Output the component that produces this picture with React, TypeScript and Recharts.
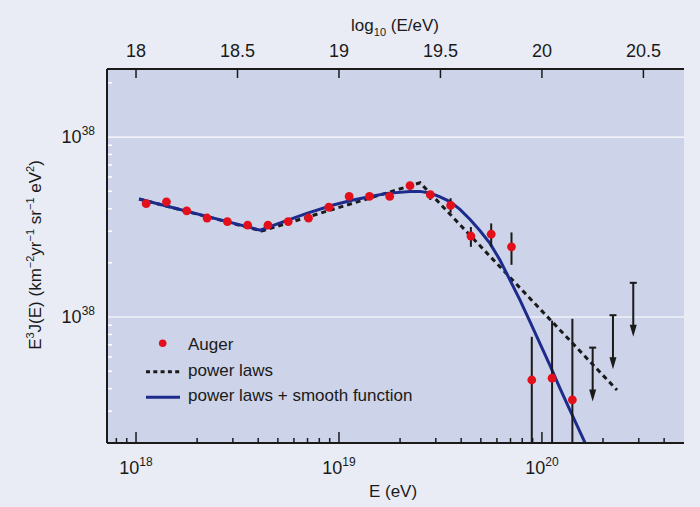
import React from "react";
import {
  ComposedChart,
  Line,
  Scatter,
  ErrorBar,
  XAxis,
  YAxis,
  CartesianGrid,
  ReferenceLine,
  Legend,
} from "recharts";

// Auger points: log10(E/eV) and log10(E^3 J)
const augerLogE = [
  18.05, 18.15, 18.25, 18.35, 18.45, 18.55, 18.65, 18.75, 18.85, 18.95, 19.05,
  19.15, 19.25, 19.35, 19.45, 19.55, 19.65, 19.75, 19.85, 19.95, 20.05, 20.15,
];
const augerLogFlux = [
  37.63, 37.64, 37.59, 37.55, 37.53, 37.51, 37.51, 37.53, 37.55, 37.61, 37.67,
  37.67, 37.67, 37.73, 37.68, 37.62, 37.45, 37.46, 37.39, 36.65, 36.66, 36.54,
];
const augerUpper = [
  37.63, 37.64, 37.59, 37.55, 37.53, 37.51, 37.51, 37.53, 37.55, 37.61, 37.67,
  37.67, 37.67, 37.73, 37.70, 37.66, 37.50, 37.52, 37.47, 36.89, 36.98, 36.99,
];
const augerLower = [
  37.63, 37.64, 37.59, 37.55, 37.53, 37.51, 37.51, 37.53, 37.55, 37.61, 37.67,
  37.67, 37.67, 37.73, 37.65, 37.58, 37.39, 37.39, 37.29, 36.3, 36.3, 36.3,
];

// upper limits (arrows)
const limitLogE = [20.25, 20.35, 20.45];
const limitLogFlux = [36.83, 37.01, 37.19];

// "power laws" fit
const powerLawLogE = [18.015, 18.62, 19.4, 20.37];
const powerLawLogFlux = [37.656, 37.478, 37.746, 36.594];

// "power laws + smooth function" fit
const smoothLogE = [
  18.015, 18.611, 18.841, 18.972, 19.069, 19.169, 19.236, 19.35, 19.399, 19.448,
  19.498, 19.547, 19.596, 19.645, 19.695, 19.744, 19.793, 19.842, 19.892, 19.941,
  19.99, 20.039, 20.089, 20.138, 20.187, 20.236,
];
const smoothLogFlux = [
  37.656, 37.483, 37.576, 37.622, 37.65, 37.672, 37.687, 37.697, 37.698, 37.689,
  37.668, 37.641, 37.598, 37.543, 37.479, 37.409, 37.317, 37.206, 37.094, 36.974,
  36.854, 36.733, 36.604, 36.483, 36.363, 36.244,
];

const xMajorTicks = [18, 19, 20];
const xMajorLabels = ["18", "19", "20"];
const topTicks = [18, 18.5, 19, 19.5, 20, 20.5];
const topTickLabels = ["18", "18.5", "19", "19.5", "20", "20.5"];
const yMajorTicks = [37, 38];
const yMajorLabels = ["38", "38"];
const legendLabels = ["Auger", "power laws", "power laws + smooth function"];

const X_DOMAIN: [number, number] = [17.857, 20.7];
const Y_DOMAIN: [number, number] = [36.3, 38.378];

const BG = "#e9ecf5";
const PLOT_BG = "#cdd3e8";
const INK = "#1a1a1a";
const RED = "#e3101b";
const BLUE = "#1d2c8c";
const FONT = "'Liberation Sans', Arial, sans-serif";

const minorTicks = (decades: number[], lo: number, hi: number) => {
  const out: number[] = [];
  decades.forEach((d) => {
    for (let k = 2; k <= 9; k++) {
      const v = d + Math.log10(k);
      if (v > lo && v < hi) out.push(v);
    }
  });
  return out;
};

const xMinor = minorTicks([17, 18, 19, 20], X_DOMAIN[0] + 0.01, X_DOMAIN[1] - 0.01);
const yMinor = minorTicks([36, 37, 38], Y_DOMAIN[0] + 0.02, Y_DOMAIN[1] - 0.01);

const augerData = augerLogE.map((x, i) => ({
  x,
  y: augerLogFlux[i],
  err: [augerLogFlux[i] - augerLower[i], augerUpper[i] - augerLogFlux[i]],
}));
const limitData = limitLogE.map((x, i) => ({ x, y: limitLogFlux[i] }));
const powerLawData = powerLawLogE.map((x, i) => ({ x, y: powerLawLogFlux[i] }));
const smoothData = smoothLogE.map((x, i) => ({ x, y: smoothLogFlux[i] }));

const BottomTick = (props: any) => {
  const { x, y, payload } = props;
  const idx = xMajorTicks.indexOf(payload.value);
  const major = idx >= 0;
  return (
    <g>
      <line x1={x} x2={x} y1={y - 1} y2={y - 1 - (major ? 10 : 4)} stroke={INK} strokeWidth={1.5} />
      {major && (
        <text x={x} y={y + 31} textAnchor="middle" fontSize={18} fill={INK} fontFamily={FONT}>
          10
          <tspan fontSize={12} dy={-8}>
            {xMajorLabels[idx]}
          </tspan>
        </text>
      )}
    </g>
  );
};

const TopTick = (props: any) => {
  const { x, y, payload } = props;
  const idx = topTicks.indexOf(payload.value);
  return (
    <g>
      <line x1={x} x2={x} y1={y + 1} y2={y + 9} stroke={INK} strokeWidth={1.5} />
      <text x={x} y={y - 12} textAnchor="middle" fontSize={18} fill={INK} fontFamily={FONT}>
        {topTickLabels[idx]}
      </text>
    </g>
  );
};

const LeftTick = (props: any) => {
  const { x, y, payload } = props;
  const idx = yMajorTicks.indexOf(payload.value);
  if (idx < 0) {
    return <line x1={x + 1} x2={x + 5} y1={y} y2={y} stroke="#ffffff" strokeWidth={1.5} />;
  }
  return (
    <text x={x - 12} y={y + 6} textAnchor="end" fontSize={18} fill={INK} fontFamily={FONT}>
      10
      <tspan fontSize={12} dy={-8}>
        {yMajorLabels[idx]}
      </tspan>
    </text>
  );
};

const TopTitle = () => (
  <text x={395} y={31} textAnchor="middle" fontSize={17} fill={INK} fontFamily={FONT}>
    log
    <tspan fontSize={11} dy={5}>
      10
    </tspan>
    <tspan dy={-5}> (E/eV)</tspan>
  </text>
);

const BottomTitle = () => (
  <text x={393} y={497} textAnchor="middle" fontSize={17} fill={INK} fontFamily={FONT}>
    E (eV)
  </text>
);

const LeftTitle = () => (
  <text
    transform="translate(41,255) rotate(-90)"
    textAnchor="middle"
    fontSize={17}
    fill={INK}
    fontFamily={FONT}
  >
    E<tspan fontSize={11} dy={-7}>3</tspan>
    <tspan dy={7}>J(E) (km</tspan>
    <tspan fontSize={11} dy={-7}>−2</tspan>
    <tspan dy={7}>yr</tspan>
    <tspan fontSize={11} dy={-7}>−1</tspan>
    <tspan dy={7}> sr</tspan>
    <tspan fontSize={11} dy={-7}>−1</tspan>
    <tspan dy={7}> eV</tspan>
    <tspan fontSize={11} dy={-7}>2</tspan>
    <tspan dy={7}>)</tspan>
  </text>
);

const Dot = (p: any) => <circle cx={p.cx} cy={p.cy} r={4.4} fill={RED} />;

const UpperLimit = (p: any) => {
  const { cx, cy } = p;
  return (
    <g>
      <line x1={cx - 3.5} x2={cx + 3.5} y1={cy} y2={cy} stroke={INK} strokeWidth={2} />
      <line x1={cx} x2={cx} y1={cy} y2={cy + 45} stroke={INK} strokeWidth={2} />
      <path d={`M${cx - 3.5},${cy + 42} L${cx + 3.5},${cy + 42} L${cx},${cy + 54} Z`} fill={INK} />
    </g>
  );
};

const LegendBox = () => (
  <svg width={320} height={90} style={{ display: "block" }}>
    <circle cx={22.7} cy={18.3} r={3.8} fill={RED} />
    <line x1={6} x2={40} y1={46.7} y2={46.7} stroke={INK} strokeWidth={3} strokeDasharray="4 3.3" />
    <line x1={6} x2={40} y1={72.3} y2={72.3} stroke={BLUE} strokeWidth={3} />
    {legendLabels.map((t, i) => (
      <text key={t} x={48} y={25 + i * 25.5} fontSize={17} fill={INK} fontFamily={FONT}>
        {t}
      </text>
    ))}
  </svg>
);

export default function App() {
  return (
    <div style={{ position: "absolute", left: 0, top: 0, width: 700, height: 507, background: BG }}>
      <ComposedChart width={700} height={507} margin={{ top: 0, right: 16, bottom: 0, left: 0 }}>
        <CartesianGrid fill={PLOT_BG} horizontal={false} vertical={false} />
        <XAxis
          dataKey="x"
          type="number"
          domain={X_DOMAIN}
          allowDataOverflow
          ticks={[...xMinor, ...xMajorTicks]}
          interval={0}
          height={64}
          tickSize={0}
          tickMargin={0}
          tickLine={false}
          axisLine={{ stroke: INK, strokeWidth: 2 }}
          tick={<BottomTick />}
          label={{ content: () => <BottomTitle /> }}
        />
        <XAxis
          xAxisId="top"
          orientation="top"
          dataKey="x"
          type="number"
          domain={X_DOMAIN}
          allowDataOverflow
          ticks={topTicks}
          interval={0}
          height={69}
          tickSize={0}
          tickMargin={0}
          tickLine={false}
          axisLine={{ stroke: INK, strokeWidth: 2 }}
          tick={<TopTick />}
          label={{ content: () => <TopTitle /> }}
        />
        <YAxis
          type="number"
          domain={Y_DOMAIN}
          allowDataOverflow
          ticks={[...yMinor, ...yMajorTicks]}
          interval={0}
          width={107}
          tickSize={0}
          tickMargin={0}
          tickLine={false}
          axisLine={{ stroke: INK, strokeWidth: 2 }}
          tick={<LeftTick />}
          label={{ content: () => <LeftTitle /> }}
        />
        <YAxis
          yAxisId="right"
          orientation="right"
          type="number"
          domain={Y_DOMAIN}
          allowDataOverflow
          width={0}
          tick={false}
          tickLine={false}
          axisLine={{ stroke: INK, strokeWidth: 2 }}
        />
        {yMajorTicks.map((v) => (
          <ReferenceLine key={v} y={v} stroke="#ffffff" strokeWidth={1.2} />
        ))}
        <Legend
          layout="vertical"
          align="center"
          verticalAlign="middle"
          wrapperStyle={{ left: 140, top: 325, width: 320, height: 90 }}
          content={() => <LegendBox />}
        />
        <Line
          data={powerLawData}
          dataKey="y"
          type="linear"
          stroke={INK}
          strokeWidth={3}
          strokeDasharray="5 4"
          dot={false}
          activeDot={false}
          isAnimationActive={false}
        />
        <Line
          data={smoothData}
          dataKey="y"
          type="linear"
          stroke={BLUE}
          strokeWidth={3}
          dot={false}
          activeDot={false}
          isAnimationActive={false}
        />
        <Scatter data={augerData} dataKey="y" shape={Dot} isAnimationActive={false}>
          <ErrorBar dataKey="err" direction="y" width={0} stroke={INK} strokeWidth={2} />
        </Scatter>
        <Scatter data={limitData} dataKey="y" shape={UpperLimit} isAnimationActive={false} />
      </ComposedChart>
    </div>
  );
}
